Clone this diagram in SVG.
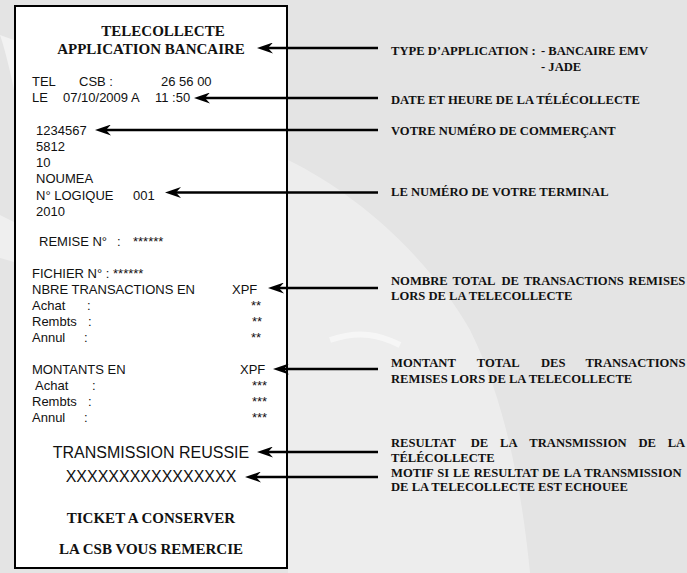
<svg xmlns="http://www.w3.org/2000/svg" width="687" height="573" viewBox="0 0 687 573">
<style>
.r{font-family:"Liberation Sans",Arial,sans-serif;font-size:13px;fill:#111}
.big{font-family:"Liberation Sans",Arial,sans-serif;font-size:16px;fill:#111}
.t{font-family:"Liberation Serif","Times New Roman",serif;font-size:15px;font-weight:bold;fill:#111}
.l{font-family:"Liberation Serif","Times New Roman",serif;font-size:12.6px;font-weight:bold;fill:#111}
.a{stroke:#000;stroke-width:2.5;fill:none;marker-end:url(#ah)}
</style>
<defs>
<marker id="ah" markerUnits="userSpaceOnUse" markerWidth="16" markerHeight="11" viewBox="0 0 16 11" refX="10" refY="5.5" orient="auto">
<path d="M0,0 L16,5.5 L0,11 L5,5.5 Z" fill="#000"/>
</marker>
</defs>
<rect width="687" height="573" fill="#e4e4e4"/>
<g id="watermark">
<path d="M288,160 C360,195 430,260 470,330 C500,390 520,470 530,573 L288,573 Z" fill="#fff" opacity="0.35"/>
<path d="M0,35 C5,50 10,70 14,90 L14,40 Z" fill="#fff" opacity="0.5"/>
<path d="M0,215 L14,222 L14,262 L0,258 Z" fill="#fff" opacity="0.4"/>
<path d="M330,340 C360,330 380,335 400,345" stroke="#fff" stroke-width="6" fill="none" opacity="0.5"/>
</g>
<g id="ticket">
<rect x="15" y="6" width="272" height="562" fill="#fff" stroke="#000" stroke-width="2"/>
<text class="t" x="163" y="36" text-anchor="middle">TELECOLLECTE</text>
<text class="t" x="151" y="53.5" text-anchor="middle">APPLICATION BANCAIRE</text>
<text class="r" x="32" y="86">TEL</text><text class="r" x="79" y="86">CSB :</text><text class="r" x="161" y="86">26 56 00</text>
<text class="r" x="32" y="101.5">LE</text><text class="r" x="63" y="101.5">07/10/2009 A</text><text class="r" x="155" y="101.5">11 :50</text>
<text class="r" x="36" y="134.5">1234567</text>
<text class="r" x="36" y="150.5">5812</text>
<text class="r" x="36" y="167">10</text>
<text class="r" x="36" y="183">NOUMEA</text>
<text class="r" x="36" y="199.5">N° LOGIQUE</text><text class="r" x="133" y="199.5">001</text>
<text class="r" x="36" y="215.5">2010</text>
<text class="r" x="39" y="246">REMISE N°</text><text class="r" x="117" y="246">:</text><text class="r" x="133" y="246">******</text>
<text class="r" x="32" y="277.5">FICHIER N° : ******</text>
<text class="r" x="32" y="294">NBRE TRANSACTIONS EN</text><text class="r" x="232" y="294">XPF</text>
<text class="r" x="32" y="310">Achat</text><text class="r" x="87" y="310">:</text><text class="r" x="251" y="310">**</text>
<text class="r" x="32" y="326">Rembts</text><text class="r" x="88" y="326">:</text><text class="r" x="252" y="326">**</text>
<text class="r" x="32" y="341.5">Annul</text><text class="r" x="84" y="341.5">:</text><text class="r" x="251" y="341.5">**</text>
<text class="r" x="32" y="374">MONTANTS EN</text><text class="r" x="240" y="374">XPF</text>
<text class="r" x="35" y="389.5">Achat</text><text class="r" x="92" y="389.5">:</text><text class="r" x="252" y="389.5">***</text>
<text class="r" x="32" y="406">Rembts</text><text class="r" x="88" y="406">:</text><text class="r" x="252" y="406">***</text>
<text class="r" x="32" y="421.5">Annul</text><text class="r" x="84" y="421.5">:</text><text class="r" x="252" y="421.5">***</text>
<text class="big" x="151" y="457.5" text-anchor="middle">TRANSMISSION REUSSIE</text>
<text class="big" x="151" y="482" text-anchor="middle">XXXXXXXXXXXXXXXX</text>
<text class="t" x="151" y="523" text-anchor="middle">TICKET A CONSERVER</text>
<text class="t" x="151" y="553.5" text-anchor="middle">LA CSB VOUS REMERCIE</text>
</g>
<g id="connectors">
<line class="a" x1="378" y1="48" x2="263" y2="48"/>
<line class="a" x1="378" y1="98" x2="200" y2="98"/>
<line class="a" x1="378" y1="130" x2="101" y2="130"/>
<line class="a" x1="378" y1="192.5" x2="171" y2="192.5"/>
<line class="a" x1="378" y1="288" x2="274" y2="288"/>
<line class="a" x1="378" y1="369" x2="279" y2="369"/>
<line class="a" x1="378" y1="452" x2="263" y2="452"/>
<line class="a" x1="378" y1="477" x2="251" y2="477"/>
</g>
<g id="labels">
<text class="l" x="391" y="55">TYPE D’APPLICATION :</text><text class="l" x="541" y="55">- BANCAIRE EMV</text>
<text class="l" x="541" y="70.5">- JADE</text>
<text class="l" x="391" y="103.5">DATE ET HEURE DE LA TÉLÉCOLLECTE</text>
<text class="l" x="391" y="135">VOTRE NUMÉRO DE COMMERÇANT</text>
<text class="l" x="391" y="196">LE NUMÉRO DE VOTRE TERMINAL</text>
<text class="l" y="285"><tspan x="391">NOMBRE</tspan><tspan x="452.5">TOTAL</tspan><tspan x="501.4">DE</tspan><tspan x="523.7">TRANSACTIONS</tspan><tspan x="628.6">REMISES</tspan></text>
<text class="l" x="391" y="300">LORS DE LA TELECOLLECTE</text>
<text class="l" y="367"><tspan x="391">MONTANT</tspan><tspan x="476.8">TOTAL</tspan><tspan x="540.9">DES</tspan><tspan x="585.4">TRANSACTIONS</tspan></text>
<text class="l" x="391" y="383">REMISES LORS DE LA TELECOLLECTE</text>
<text class="l" y="447"><tspan x="391">RESULTAT</tspan><tspan x="470.7">DE</tspan><tspan x="500">LA</tspan><tspan x="529.3">TRANSMISSION</tspan><tspan x="638.4">DE</tspan><tspan x="667.7">LA</tspan></text>
<text class="l" x="391" y="462">TÉLÉCOLLECTE</text>
<text class="l" x="391" y="476.5" word-spacing="0.8">MOTIF SI LE RESULTAT DE LA TRANSMISSION</text>
<text class="l" x="391" y="491">DE LA TELECOLLECTE EST ECHOUEE</text>
</g>
</svg>
